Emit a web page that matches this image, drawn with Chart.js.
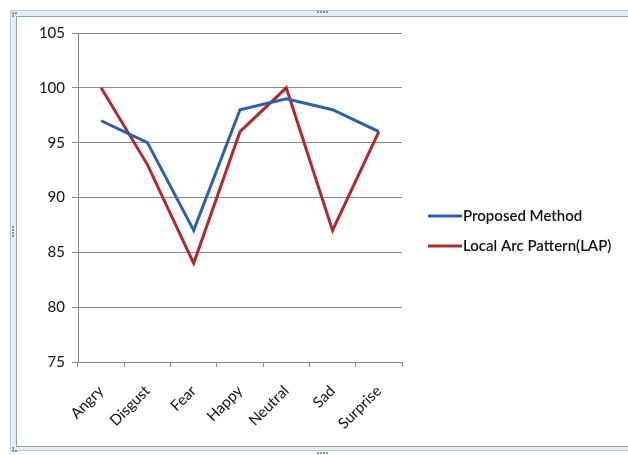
<!DOCTYPE html>
<html>
<head>
<meta charset="utf-8">
<script src="https://cdn.jsdelivr.net/npm/chart.js@4/dist/chart.umd.min.js"></script>
<style>
  html, body { margin: 0; padding: 0; background: #ffffff; width: 628px; height: 455px; overflow: hidden; }
  #frame { position: absolute; left: 10px; top: 10px; width: 640px; height: 441px; background: #e4eef5; border: 1px solid #b8c9d6; box-sizing: border-box; }
  #inner { position: absolute; left: 16px; top: 16px; width: 630px; height: 431px; background: #ffffff; border: 1px solid #8fa3b2; box-sizing: border-box; }
  .dot { position: absolute; width: 2px; height: 2px; background: #7f93a3; }
  #wrap { position: absolute; left: 17px; top: 17px; width: 611px; height: 429px; }
</style>
</head>
<body>
<div id="frame"></div>
<div id="inner"></div>
<div class="dot" style="left:317px;top:11px"></div><div class="dot" style="left:320px;top:11px"></div><div class="dot" style="left:323px;top:11px"></div><div class="dot" style="left:326px;top:11px"></div>
<div class="dot" style="left:317px;top:452px"></div><div class="dot" style="left:320px;top:452px"></div><div class="dot" style="left:323px;top:452px"></div><div class="dot" style="left:326px;top:452px"></div>
<div class="dot" style="left:12px;top:226px"></div><div class="dot" style="left:12px;top:229px"></div><div class="dot" style="left:12px;top:232px"></div><div class="dot" style="left:12px;top:235px"></div>
<div class="dot" style="left:12px;top:12px"></div><div class="dot" style="left:15px;top:12px"></div><div class="dot" style="left:12px;top:15px"></div>
<div class="dot" style="left:12px;top:447px"></div><div class="dot" style="left:12px;top:450px"></div><div class="dot" style="left:15px;top:450px"></div>
<div id="wrap"><canvas id="c" width="611" height="429"></canvas></div>
<script>
const categories = ["Angry", "Disgust", "Fear", "Happy", "Neutral", "Sad", "Surprise"];
const proposedMethod = [97, 95, 87, 98, 99, 98, 96];
const localArcPattern = [100, 93, 84, 96, 100, 87, 96];
const seriesNames = ["Proposed Method", "Local Arc Pattern(LAP)"];
const yMin = 75, yMax = 105, yStep = 5;

const FONT = "Lato, 'Open Sans', sans-serif";
const BLUE = "#2d60ab";
const RED = "#b2282d";

// Legend drawn on the chart canvas from the chart's own datasets (built-in legend width is capped at 1/4 of the canvas).
const sideLegend = {
  id: "sideLegend",
  afterDraw(chart) {
    const ctx = chart.ctx;
    const ca = chart.chartArea;
    const x0 = ca.right + 26;
    const lineW = 34;
    const gap = 30;
    const items = chart.data.datasets;
    const yStart = 199;
    ctx.save();
    ctx.font = "600 15px " + FONT;
    ctx.textBaseline = "middle";
    ctx.textAlign = "left";
    items.forEach((ds, i) => {
      const y = yStart + i * gap;
      ctx.strokeStyle = ds.borderColor;
      ctx.lineWidth = 3;
      ctx.beginPath();
      ctx.moveTo(x0, y);
      ctx.lineTo(x0 + lineW, y);
      ctx.stroke();
      ctx.fillStyle = "#111";
      ctx.fillText(ds.label, x0 + lineW + 1, y);
    });
    ctx.restore();
  }
};

new Chart(document.getElementById("c"), {
  type: "line",
  data: {
    labels: categories,
    datasets: [
      { label: seriesNames[0], data: proposedMethod, borderColor: BLUE, backgroundColor: BLUE, borderWidth: 3, pointRadius: 0, tension: 0, fill: false },
      { label: seriesNames[1], data: localArcPattern, borderColor: RED, backgroundColor: RED, borderWidth: 3, pointRadius: 0, tension: 0, fill: false }
    ]
  },
  plugins: [sideLegend],
  options: {
    responsive: false,
    animation: false,
    devicePixelRatio: 1,
    layout: { padding: { left: 0, top: 16, right: 226, bottom: 0 } },
    plugins: {
      legend: { display: false },
      tooltip: { enabled: false }
    },
    scales: {
      x: {
        offset: true,
        grid: { display: true, drawOnChartArea: false, drawTicks: true, tickLength: 5, color: "#8a8a8a", offset: true },
        border: { display: true, color: "#8a8a8a", width: 1 },
        ticks: { color: "#111", font: { family: FONT, size: 15 }, minRotation: 45, maxRotation: 45, autoSkip: false, padding: 15 },
        afterFit: (s) => { s.height = 84; }
      },
      y: {
        min: yMin, max: yMax,
        ticks: { stepSize: yStep, color: "#111", font: { family: FONT, size: 15 }, padding: 7 },
        grid: { color: "#8a8a8a", tickLength: 6, drawTicks: true },
        border: { display: true, color: "#8a8a8a", width: 1 },
        afterFit: (s) => { s.width = 61; }
      }
    }
  }
});
</script>
</body>
</html>
